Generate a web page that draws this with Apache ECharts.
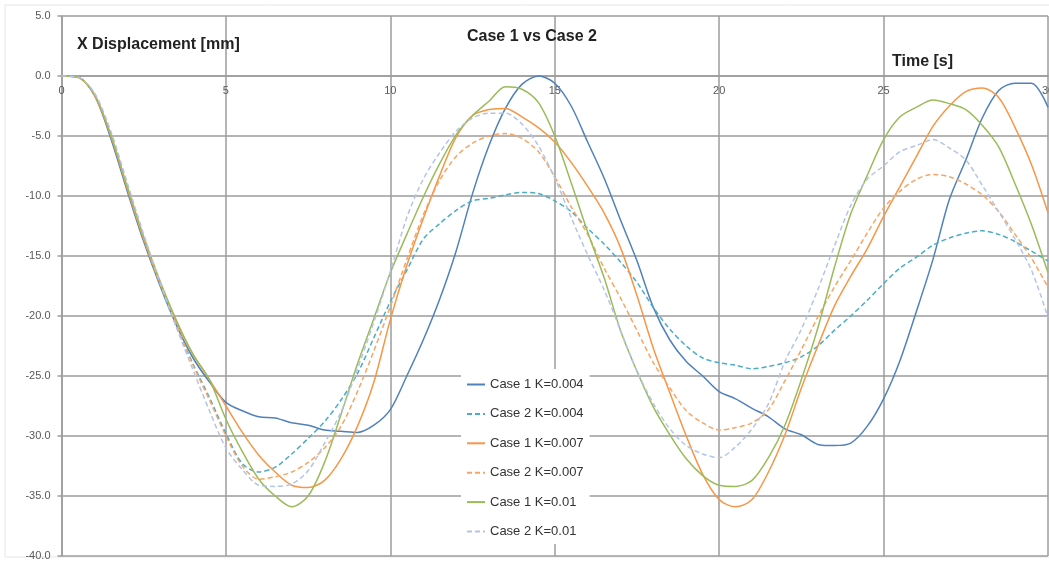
<!DOCTYPE html>
<html>
<head>
<meta charset="utf-8">
<title>Case 1 vs Case 2</title>
<script src="https://cdn.jsdelivr.net/npm/echarts@6/dist/echarts.min.js"></script>
<style>
  html, body { margin: 0; padding: 0; background: #fff; }
  #chart { width: 1049px; height: 561px; }
</style>
</head>
<body>
<div id="chart"></div>
<script>
// Time samples [s]
const timeS = [
  0, 0.5, 1, 1.5, 2, 2.5, 3, 3.5, 4, 4.5, 5,
  5.5, 6, 6.5, 7, 7.5, 8, 8.5, 9, 9.5, 10,
  10.5, 11, 11.5, 12, 12.5, 13, 13.5, 14, 14.5, 15,
  15.5, 16, 16.5, 17, 17.5, 18, 18.5, 19, 19.5, 20,
  20.5, 21, 21.5, 22, 22.5, 23, 23.5, 24, 24.5, 25,
  25.5, 26, 26.5, 27, 27.5, 28, 28.5, 29, 29.5, 30
];

// X displacement [mm]
const case1K004 = [
  0, -0.1, -1.6, -5.2, -9.6, -13.8, -17.5, -20.8, -23.5, -25.5, -27.2,
  -27.9, -28.4, -28.5, -28.9, -29.1, -29.5, -29.6, -29.7, -29.1, -27.8,
  -25.0, -22.0, -18.6, -14.6, -9.8, -5.8, -2.7, -0.7, 0.0, -0.6,
  -2.5, -5.5, -8.5, -12.0, -15.4, -19.3, -22.0, -23.8, -25.0, -26.3,
  -26.9, -27.7, -28.4, -29.4, -29.9, -30.7, -30.8, -30.6, -29.2, -26.9,
  -23.7, -19.6, -15.3, -10.3, -7.0, -3.5, -1.2, -0.6, -0.6, -2.6
];
const case2K004 = [
  0, -0.1, -1.5, -4.9, -9.3, -13.6, -17.4, -20.9, -24.0, -26.8, -29.8,
  -32.3, -33.0, -32.6, -31.5, -30.2, -28.8, -27.0, -24.8, -21.8, -18.8,
  -16.2, -13.6, -12.3, -11.2, -10.4, -10.2, -9.9, -9.7, -9.8, -10.4,
  -11.3, -12.7, -14.0, -15.5, -17.2, -19.3, -21.1, -22.5, -23.5, -23.9,
  -24.1, -24.4, -24.2, -23.9, -23.4, -22.5, -21.2, -20.0, -18.7, -17.3,
  -16.0, -15.1, -14.1, -13.5, -13.1, -12.9, -13.2, -13.8, -14.6, -15.4
];
const case1K007 = [
  0, -0.1, -1.6, -5.0, -9.4, -13.6, -17.3, -20.5, -23.2, -25.3, -27.5,
  -29.7, -31.6, -33.0, -34.1, -34.3, -33.7, -31.9, -29.2, -25.5, -20.3,
  -15.8, -11.9, -8.3, -5.1, -3.3, -2.8, -2.7, -3.4, -4.3, -5.5,
  -7.2, -9.2, -11.4, -14.3, -18.3, -22.7, -26.4, -30.0, -33.2, -35.3,
  -35.9, -35.3, -33.0, -29.9, -26.0, -22.5, -19.2, -16.7, -14.4, -11.7,
  -9.2, -6.7, -4.2, -2.5, -1.3, -1.0, -1.8, -4.3, -7.4, -11.4
];
const case2K007 = [
  0, -0.1, -1.5, -4.8, -9.2, -13.5, -17.3, -20.8, -24.1, -27.0, -30.0,
  -32.5, -33.6, -33.4, -33.0, -32.2, -31.0, -29.2, -26.3, -22.9, -19.2,
  -15.3, -11.6, -8.7, -6.7, -5.6, -5.0, -4.8, -5.2, -6.3, -8.4,
  -10.9, -13.2, -16.0, -18.5, -21.2, -23.9, -26.0, -27.9, -28.9, -29.5,
  -29.3, -28.9, -27.8, -25.4, -22.8, -20.1, -17.6, -15.4, -13.1, -11.0,
  -9.6, -8.6, -8.2, -8.4, -9.0, -9.9, -11.3, -13.2, -15.2, -17.6
];
const case1K01 = [
  0, -0.1, -1.5, -4.9, -9.2, -13.4, -17.1, -20.4, -23.2, -25.3, -28.6,
  -31.3, -33.6, -35.0, -35.9, -35.0, -32.2, -28.2, -24.0, -20.2, -16.4,
  -13.2, -10.1, -7.3, -4.9, -3.3, -2.1, -0.9, -1.1, -2.2, -5.0,
  -8.9, -13.0, -16.8, -21.2, -24.6, -27.6, -29.9, -31.9, -33.3, -34.1,
  -34.2, -33.7, -31.8, -29.1, -25.3, -21.0, -16.0, -11.5, -8.3, -5.3,
  -3.4, -2.6, -2.0, -2.3, -2.8, -4.1, -5.9, -9.0, -12.4, -16.4
];
const case2K01 = [
  0, -0.1, -1.4, -4.6, -8.9, -13.2, -17.2, -21.0, -24.5, -27.9, -31.0,
  -32.8, -34.1, -34.2, -34.0, -32.9, -30.6, -28.0, -24.4, -20.5, -16.3,
  -11.8, -8.6, -6.4, -4.6, -3.5, -3.1, -3.1, -4.0, -5.8, -8.5,
  -11.8, -14.9, -17.8, -21.2, -24.6, -27.3, -29.4, -30.8, -31.5, -31.8,
  -30.9, -29.4, -27.3, -23.8, -21.1, -17.8, -14.2, -10.8, -8.6, -7.5,
  -6.3, -5.8, -5.3, -6.0, -7.0, -9.1, -11.3, -13.6, -16.2, -20.1
];

const seriesNames = [
  'Case 1 K=0.004', 'Case 2 K=0.004',
  'Case 1 K=0.007', 'Case 2 K=0.007',
  'Case 1 K=0.01',  'Case 2 K=0.01'
];
const seriesValues = [case1K004, case2K004, case1K007, case2K007, case1K01, case2K01];
const seriesColors = ['#4f81bd', '#4bacc6', '#f79646', '#f8a462', '#9bbb59', '#b4c4e6'];
const seriesDashed = [false, true, false, true, false, true];

const gridColor = '#9c9c9c';
const font = 'Liberation Sans, Arial, sans-serif';

// Plot box in pixels; the time axis sits on the y = 0 line
const plotTop = 16, plotBottom = 5, yMin = -40, yMax = 5;
const plotHeight = 561 - plotTop - plotBottom;
const zeroOffset = -plotHeight * (0 - yMin) / (yMax - yMin);

const chart = echarts.init(document.getElementById('chart'), null, { renderer: 'canvas' });

const series = seriesNames.map((name, i) => ({
  name: name,
  type: 'line',
  data: timeS.map((t, k) => [t, seriesValues[i][k]]),
  symbol: 'none',
  smooth: 0.3,
  color: seriesColors[i],
  lineStyle: {
    width: 1.5,
    color: seriesColors[i],
    type: seriesDashed[i] ? [5, 3] : 'solid'
  },
  emphasis: { disabled: true }
}));

chart.setOption({
  animation: false,
  backgroundColor: '#fff',
  grid: {
    left: 61.5, right: 1, top: plotTop, bottom: plotBottom,
    containLabel: false, outerBoundsMode: 'none'
  },
  xAxis: {
    type: 'value',
    position: 'bottom',
    offset: zeroOffset,
    min: 0, max: 30, interval: 5,
    axisLine: { show: true, onZero: false, lineStyle: { color: gridColor, width: 1.5 } },
    axisTick: { show: false },
    axisLabel: { color: '#595959', fontSize: 11, fontFamily: font, margin: 9 },
    splitLine: { show: true, lineStyle: { color: gridColor, width: 1.5 } }
  },
  yAxis: {
    type: 'value',
    min: yMin, max: yMax, interval: 5,
    axisLine: { show: true, lineStyle: { color: gridColor, width: 1.5 } },
    axisTick: { show: true, length: 4, lineStyle: { color: gridColor, width: 1.5 } },
    axisLabel: {
      color: '#595959', fontSize: 11, fontFamily: font, margin: 11,
      formatter: v => v.toFixed(1)
    },
    splitLine: { show: true, lineStyle: { color: gridColor, width: 1.5 } }
  },
  legend: {
    data: seriesNames,
    orient: 'vertical',
    left: 461, top: 369,
    padding: [9, 6, 6, 5],
    backgroundColor: '#fff',
    itemWidth: 18, itemHeight: 14, itemGap: 15.4 + 1,
    itemStyle: { opacity: 0 },
    textStyle: { color: '#333', fontSize: 13, fontFamily: font },
    selectedMode: false
  },
  graphic: [
    { type: 'rect', shape: { x: 5, y: 5, width: 1100, height: 552 },
      style: { fill: 'none', stroke: '#e6e6e6', lineWidth: 1 }, silent: true, z: -10 },
    { type: 'text', left: 467, top: 29,
      style: { text: 'Case 1 vs Case 2', font: 'bold 16px ' + font, fill: '#222' }, z: 100 },
    { type: 'text', left: 77, top: 37,
      style: { text: 'X Displacement [mm]', font: 'bold 16px ' + font, fill: '#222' }, z: 100 },
    { type: 'text', left: 892, top: 54,
      style: { text: 'Time [s]', font: 'bold 16px ' + font, fill: '#222' }, z: 100 }
  ],
  series: series
});
</script>
</body>
</html>
